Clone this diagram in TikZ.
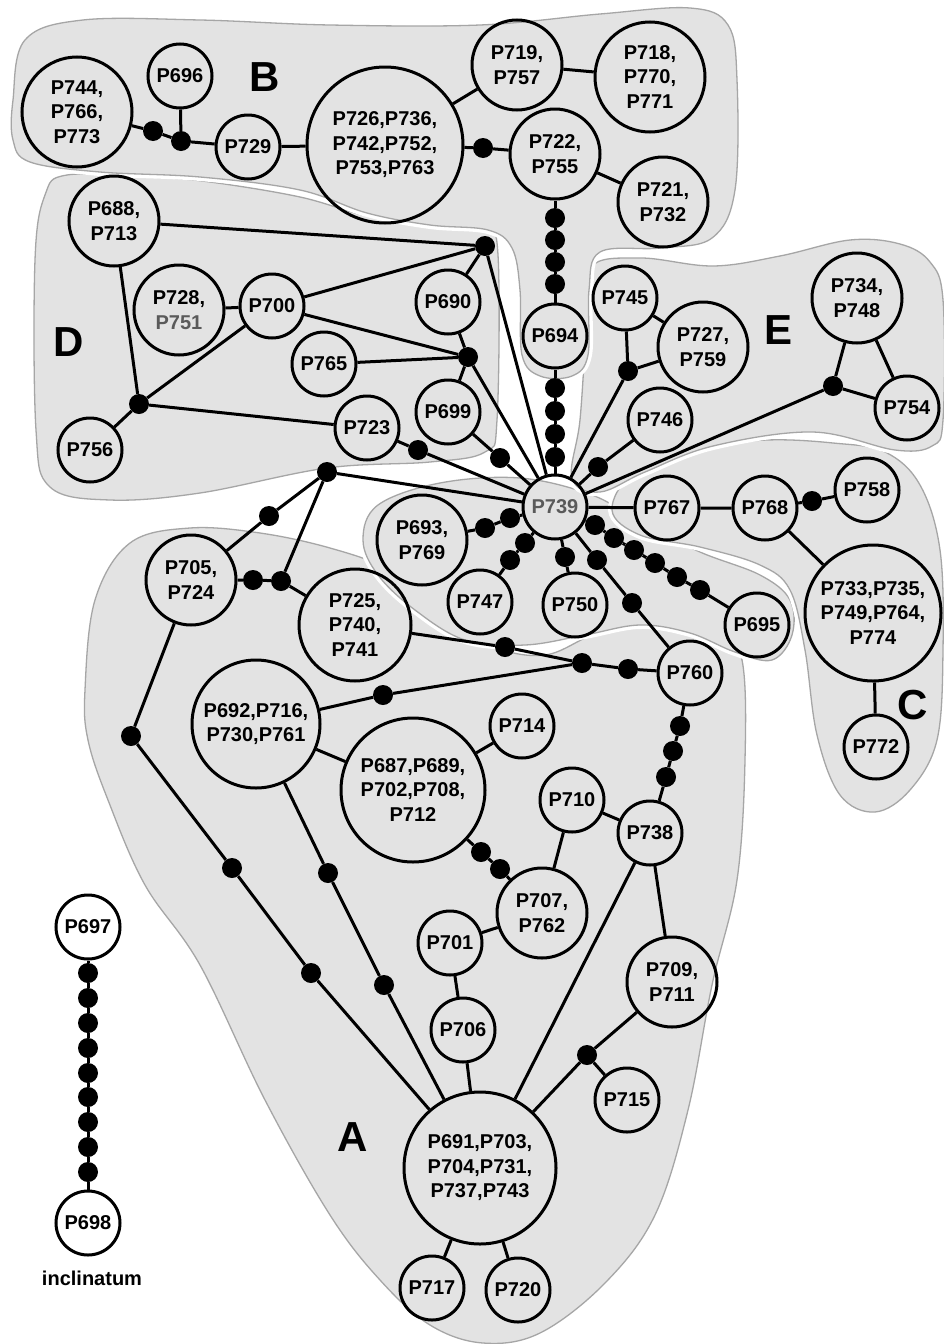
\documentclass[tikz,border=0pt]{standalone}
\usepackage{fontspec}
\setmainfont{Liberation Sans}
\definecolor{blobfill}{HTML}{E3E3E3}
\definecolor{blobline}{HTML}{A6A6A6}
\definecolor{tgray}{HTML}{5A5A5A}
\begin{document}
\begin{tikzpicture}[x=1pt,y=-1pt,
  nd/.style={circle,draw,line width=3pt,inner sep=0pt,minimum size=#1,align=center,font=\fontsize{20}{24.5}\selectfont\bfseries},
  bead/.style={circle,fill=black,inner sep=0pt,minimum size=20pt},
  lnk/.style={line width=3pt},
  blob/.style={fill=blobfill,draw=blobline,line width=1.3pt,preaction={draw=white,line width=8pt}},
  grp/.style={font=\fontsize{42}{42}\selectfont\bfseries},
]
\useasboundingbox (0,0) rectangle (944,1344);
\fill[white] (0,0) rectangle (944,1344);
% ---------- blobs ----------
\draw[blob] plot[smooth cycle,tension=0.6] coordinates {(85,690) (95,600) (130,543) (190,528) (260,533) (330,548) (390,570) (440,608) (490,645) (545,655) (600,632) (667,620) (718,628) (742,660) (745,760) (737,880) (712,985) (688,1110) (655,1215) (605,1283) (540,1333) (483,1343) (430,1325) (380,1280) (330,1215) (265,1100) (200,965) (145,885) (108,800) (88,740)};
\draw[blob] plot[smooth cycle,tension=0.6] coordinates {(363,540) (378,505) (440,483) (520,478) (592,495) (640,522) (700,552) (760,575) (790,600) (792,635) (772,660) (735,652) (690,633) (640,625) (585,635) (525,645) (465,640) (415,610) (378,575)};
\draw[blob] plot[smooth cycle,tension=0.6] coordinates {(612,510) (635,472) (700,448) (767,440) (833,443) (885,452) (920,485) (940,550) (943,650) (937,740) (910,790) (875,812) (840,795) (817,735) (805,650) (790,590) (760,565) (700,547) (640,535)};
\draw[blob] plot[smooth cycle,tension=0.6] coordinates {(590,268) (640,258) (713,266) (780,256) (850,240) (900,244) (930,262) (943,300) (943,420) (932,446) (895,450) (813,432) (713,446) (645,472) (600,492) (572,478) (580,420) (586,330)};
\draw[blob] plot[smooth cycle,tension=0.6] coordinates {(67,175) (150,177) (210,182) (300,197) (367,216) (440,228) (485,232) (498,255) (497,420) (485,452) (430,462) (327,468) (200,493) (110,500) (50,487) (36,430) (35,260) (45,195)};
\draw[blob] plot[smooth cycle,tension=0.6] coordinates {(13,100) (25,40) (83,20) (200,20) (330,25) (480,25) (600,14) (690,8) (728,25) (737,80) (735,190) (712,238) (660,248) (600,252) (589,290) (588,355) (572,376) (540,376) (522,355) (520,290) (512,248) (488,230) (430,225) (367,213) (300,190) (200,177) (100,172) (30,162) (13,140)};
% ---------- group labels ----------
\node[grp] (lA) at (353,1137) {A};
\node[grp] (lB) at (265,77) {B};
\node[grp] (lC) at (913,705) {C};
\node[grp] (lD) at (69,342) {D};
\node[grp] (lE) at (778,330) {E};
% ---------- B ----------
\node[nd=110] (n744) at (77,112) {P744,\\P766,\\P773};
\node[nd=64] (n696) at (180,76) {P696};
\node[bead] (bj) at (181,141) {};
\node[bead] (b1) at (153,131) {};
\node[nd=64] (n729) at (248,147) {P729};
\node[nd=156] (n726) at (385,145) {P726,P736,\\P742,P752,\\P753,P763};
\node[nd=90] (n719) at (517,65) {P719,\\P757};
\node[nd=110] (n718) at (650,77) {P718,\\P770,\\P771};
\node[nd=90] (n722) at (555,154) {P722,\\P755};
\node[bead] (b2) at (483,148) {};
\node[nd=90] (n721) at (663,202) {P721,\\P732};
\node[bead] (c1) at (555,218) {};
\node[bead] (c2) at (555,240) {};
\node[bead] (c3) at (555,262) {};
\node[bead] (c4) at (555,284) {};
\node[nd=64] (n694) at (555,336) {P694};
\node[bead] (c5) at (555,388) {};
\node[bead] (c6) at (555,411) {};
\node[bead] (c7) at (555,434) {};
\node[bead] (c8) at (555,457) {};
\node[nd=64] (n739) at (555,507) {\textcolor{tgray}{P739}};
% ---------- D ----------
\node[nd=90] (n688) at (114,221) {P688,\\P713};
\node[bead] (j1) at (485,246) {};
\node[nd=90] (n728) at (179,310) {P728,\\\textcolor{tgray}{P751}};
\node[nd=64] (n700) at (272,306) {P700};
\node[nd=64] (n690) at (448,302) {P690};
\node[bead] (j2) at (468,357) {};
\node[nd=64] (n765) at (324,364) {P765};
\node[nd=64] (n699) at (448,412) {P699};
\node[bead] (d2) at (500,458) {};
\node[nd=64] (n723) at (367,428) {P723};
\node[bead] (d1) at (418,450) {};
\node[bead] (j3) at (139,404) {};
\node[nd=64] (n756) at (90,450) {P756};
% ---------- centre ----------
\node[bead] (j4) at (327,472) {};
\node[bead] (d3) at (269,516) {};
\node[nd=90] (n705) at (191,580) {P705,\\P724};
\node[bead] (d4) at (253,580) {};
\node[bead] (d5) at (281,581) {};
\node[nd=112] (n725) at (355,625) {P725,\\P740,\\P741};
\node[nd=90] (n693) at (422,540) {P693,\\P769};
\node[bead] (e1) at (510,518) {};
\node[bead] (e2) at (485,528) {};
\node[nd=64] (n747) at (480,602) {P747};
\node[bead] (e3) at (525,543) {};
\node[bead] (e4) at (510,560) {};
\node[nd=64] (n750) at (575,605) {P750};
\node[bead] (e5) at (565,557) {};
\node[bead] (e6) at (597,560) {};
\node[bead] (e7) at (632,603) {};
\node[nd=64] (n760) at (690,673) {P760};
\node[bead] (f1) at (595,525) {};
\node[bead] (f2) at (614,538) {};
\node[bead] (f3) at (634,550) {};
\node[bead] (f4) at (655,563) {};
\node[bead] (f5) at (677,577) {};
\node[bead] (f6) at (700,590) {};
\node[nd=64] (n695) at (757,625) {P695};
% ---------- E ----------
\node[nd=64] (n745) at (625,298) {P745};
\node[nd=90] (n727) at (703,347) {P727,\\P759};
\node[bead] (j7) at (628,371) {};
\node[nd=64] (n746) at (660,420) {P746};
\node[bead] (g2) at (598,467) {};
\node[nd=90] (n734) at (857,298) {P734,\\P748};
\node[bead] (j8) at (833,386) {};
\node[nd=64] (n754) at (907,408) {P754};
% ---------- C ----------
\node[nd=64] (n767) at (667,508) {P767};
\node[nd=64] (n768) at (765,508) {P768};
\node[bead] (g1) at (812,501) {};
\node[nd=64] (n758) at (867,490) {P758};
\node[nd=136] (n733) at (873,613) {P733,P735,\\P749,P764,\\P774};
\node[nd=64] (n772) at (876,747) {P772};
% ---------- A ----------
\node[nd=128] (n692) at (256,724) {P692,P716,\\P730,P761};
\node[bead] (h3) at (383,695) {};
\node[bead] (j6) at (582,663) {};
\node[bead] (h1) at (505,647) {};
\node[bead] (h2) at (628,669) {};
\node[nd=144] (n687) at (413,790) {P687,P689,\\P702,P708,\\P712};
\node[nd=64] (n714) at (522,726) {P714};
\node[bead] (h4) at (481,852) {};
\node[bead] (h5) at (500,869) {};
\node[nd=90] (n707) at (542,913) {P707,\\P762};
\node[nd=64] (n710) at (572,800) {P710};
\node[nd=64] (n738) at (650,833) {P738};
\node[bead] (h6) at (680,726) {};
\node[bead] (h7) at (673,751) {};
\node[bead] (h8) at (666,777) {};
\node[nd=64] (n701) at (450,943) {P701};
\node[nd=64] (n706) at (463,1030) {P706};
\node[nd=90] (n709) at (672,982) {P709,\\P711};
\node[bead] (j9) at (587,1055) {};
\node[nd=64] (n715) at (627,1100) {P715};
\node[nd=152] (n691) at (480,1168) {P691,P703,\\P704,P731,\\P737,P743};
\node[nd=64] (n717) at (432,1288) {P717};
\node[nd=64] (n720) at (518,1290) {P720};
\node[bead] (j5) at (131,736) {};
\node[bead] (h9) at (232,868) {};
\node[bead] (h10) at (311,973) {};
\node[bead] (h11) at (328,873) {};
\node[bead] (h12) at (384,985) {};
% ---------- isolated ----------
\node[nd=64] (n697) at (88,927) {P697};
\node[nd=64] (n698) at (88,1223) {P698};
\foreach \i/\yy in {1/973,2/998,3/1023,4/1048,5/1073,6/1097,7/1122,8/1147,9/1172}
  \node[bead] (k\i) at (88,\yy) {};
\node[font=\fontsize{20}{24}\selectfont\bfseries] (lincl) at (92,1278) {inclinatum};
% ---------- connectors ----------
\draw[lnk] (n744) -- (b1) -- (bj) -- (n729) -- (n726) -- (n719) -- (n718);
\draw[lnk] (bj) -- (n696);
\draw[lnk] (n726) -- (b2) -- (n722) -- (n721);
\draw[lnk] (n722) -- (c1) -- (c2) -- (c3) -- (c4) -- (n694) -- (c5) -- (c6) -- (c7) -- (c8) -- (n739);
\draw[lnk] (n688) -- (j1);
\draw[lnk] (n688) -- (j3);
\draw[lnk] (n728) -- (n700);
\draw[lnk] (n700) -- (j1);
\draw[lnk] (n700) -- (j2);
\draw[lnk] (n700) -- (j3);
\draw[lnk] (n690) -- (j1);
\draw[lnk] (n690) -- (j2);
\draw[lnk] (n765) -- (j2);
\draw[lnk] (j2) -- (n699);
\draw[lnk] (j2) -- (n739);
\draw[lnk] (j1) -- (n739);
\draw[lnk] (j3) -- (n723);
\draw[lnk] (j3) -- (n756);
\draw[lnk] (n723) -- (d1) -- (n739);
\draw[lnk] (n699) -- (d2) -- (n739);
\draw[lnk] (j4) -- (n739);
\draw[lnk] (j4) -- (d3) -- (n705);
\draw[lnk] (j4) -- (d5);
\draw[lnk] (n705) -- (d4) -- (d5) -- (n725);
\draw[lnk] (n739) -- (e1) -- (e2) -- (n693);
\draw[lnk] (n739) -- (e3) -- (e4) -- (n747);
\draw[lnk] (n739) -- (e5) -- (n750);
\draw[lnk] (n739) -- (e6) -- (e7) -- (n760);
\draw[lnk] (n739) -- (f1) -- (f2) -- (f3) -- (f4) -- (f5) -- (f6) -- (n695);
\draw[lnk] (n739) -- (n767) -- (n768) -- (g1) -- (n758);
\draw[lnk] (n768) -- (n733) -- (n772);
\draw[lnk] (n739) -- (j7);
\draw[lnk] (j7) -- (n745) -- (n727) -- (j7);
\draw[lnk] (n739) -- (g2) -- (n746);
\draw[lnk] (n739) -- (j8) -- (n734) -- (n754) -- (j8);
\draw[lnk] (n725) -- (h1) -- (j6) -- (h2) -- (n760);
\draw[lnk] (n692) -- (h3) -- (j6);
\draw[lnk] (n692) -- (n687) -- (n714);
\draw[lnk] (n687) -- (h4) -- (h5) -- (n707);
\draw[lnk] (n760) -- (h6) -- (h7) -- (h8) -- (n738);
\draw[lnk] (n710) -- (n738);
\draw[lnk] (n710) -- (n707) -- (n701) -- (n706) -- (n691);
\draw[lnk] (n738) -- (n709) -- (j9) -- (n691);
\draw[lnk] (j9) -- (n715);
\draw[lnk] (n738) -- (n691);
\draw[lnk] (n691) -- (n717);
\draw[lnk] (n691) -- (n720);
\draw[lnk] (n705) -- (j5) -- (h9) -- (h10) -- (n691);
\draw[lnk] (n692) -- (h11) -- (h12) -- (n691);
\draw[lnk] (n697) -- (k1) -- (k2) -- (k3) -- (k4) -- (k5) -- (k6) -- (k7) -- (k8) -- (k9) -- (n698);
\end{tikzpicture}
\end{document}
